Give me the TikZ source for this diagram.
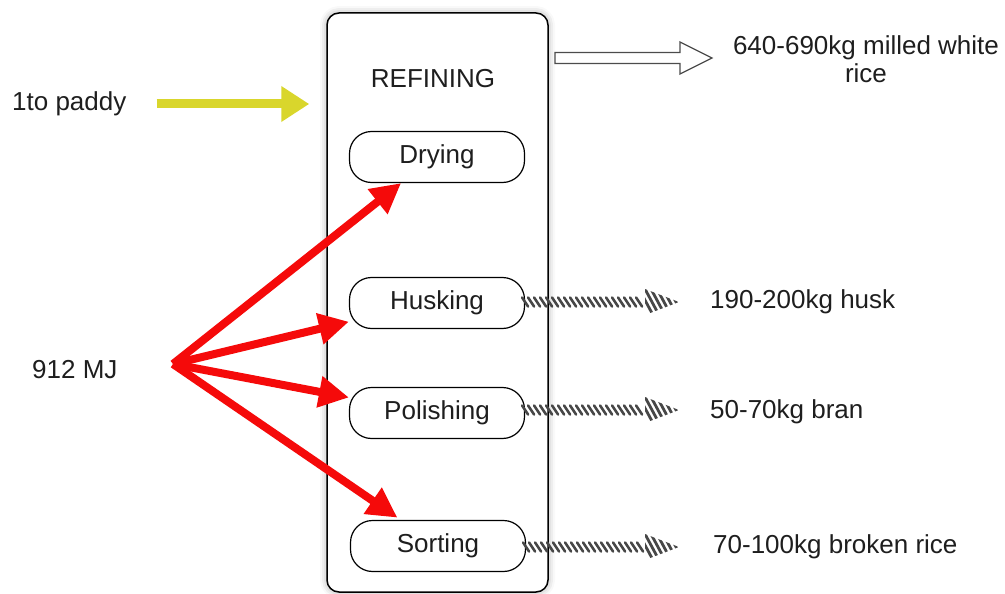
\documentclass[tikz,border=0pt]{standalone}
\usepackage{fontspec}
\setmainfont{Liberation Sans}
\usetikzlibrary{arrows.meta,calc,decorations.markings,shadows.blur}

\definecolor{txt}{HTML}{1E1E1E}
\definecolor{energy}{HTML}{F50A0A}
\definecolor{paddy}{HTML}{D9D62C}
\definecolor{hatch}{HTML}{474747}

\tikzset{
  lbl/.style={font=\fontsize{26}{28}\selectfont, text=txt, inner sep=0pt},
  stage/.style={draw=black, line width=1.2pt, rounded corners=22pt,
    minimum width=175pt, minimum height=51pt, inner sep=0pt,
    font=\fontsize{26}{28}\selectfont, text=txt},
  energyflow/.style={draw=energy, line width=8pt,
    -{Triangle[length=30pt,width=30pt]}},
  inflow/.style={draw=paddy, line width=9pt,
    -{Triangle[length=28pt,width=34pt]}},
  % hatched output arrow: slanted strokes along the body, striped head
  waste/.style={decoration={markings,
      mark=between positions 0pt and 118pt step 6pt with {
        \draw[hatch, line width=2.6pt, line cap=round] (-3,-4.5) -- (3,4.5);},
      mark=at position 1 with {
        \clip (-34,-13) -- (0,0) -- (-34,13) -- cycle;
        \foreach \s in {-33,-27,...,0}
          \draw[hatch, line width=2.8pt] (\s-7,-13) -- (\s+7,13);}},
    postaction={decorate}},
}

\begin{document}
\begin{tikzpicture}[x=1pt,y=-1pt]
  \useasboundingbox (0,0) rectangle (1005,594);

  % refining process box
  \node[draw=black, line width=1.5pt, rounded corners=12pt, fill=white,
        minimum width=221pt, minimum height=579pt, inner sep=0pt,
        blur shadow={shadow xshift=0pt, shadow yshift=0pt,
                     shadow blur radius=7pt, shadow opacity=35}]
        (box) at (437.5,302.5) {};
  \node[lbl] (refining) at (433,79) {REFINING};

  % process stages
  \node[stage] (drying)    at (437,157) {Drying};
  \node[stage] (husking)   at (437,303) {Husking};
  \node[stage] (polishing) at (437,413) {Polishing};
  \node[stage] (sorting)   at (438,546) {Sorting};

  % inputs
  \node[lbl, anchor=west] (paddytxt) at (12,104) {1to paddy};
  \node[lbl, anchor=west] (mj) at (32,370) {912 MJ};
  \coordinate (hub) at (173,364);

  \draw[inflow, shorten <=30pt, shorten >=17pt]
    (paddytxt.east) -- (paddytxt.east -| box.west);

  \draw[energyflow] (hub) -- (drying.216);
  \draw[energyflow] (hub) -- (husking.192);
  \draw[energyflow] (hub) -- (polishing.170);
  \draw[energyflow, shorten >=4pt] (hub) -- (sorting.145);

  % main product
  \node[lbl, align=center] (white) at (866,59)
    {640-690kg milled white\\rice};
  \coordinate (ws) at (555,58);
  \coordinate (we) at (712,58);
  \draw[draw=black!70, line width=1.3pt, fill=white, line join=miter]
    ($(ws)+(0,-5.5)$) -- ($(we)+(-32,-5.5)$) -- ($(we)+(-32,-16)$) -- (we)
    -- ($(we)+(-32,16)$) -- ($(we)+(-32,5.5)$) -- ($(ws)+(0,5.5)$) -- cycle;

  % by-products
  \node[lbl, anchor=west] (husk)   at (710,302) {190-200kg husk};
  \node[lbl, anchor=west] (bran)   at (710,412) {50-70kg bran};
  \node[lbl, anchor=west] (broken) at (713,547) {70-100kg broken rice};

  \coordinate (h1) at (679,302);
  \coordinate (h2) at (679,410);
  \coordinate (h3) at (679,547);
  \path[waste] (husking.east |- h1) -- (h1);
  \path[waste] (polishing.east |- h2) -- (h2);
  \path[waste] (sorting.east |- h3) -- (h3);
\end{tikzpicture}
\end{document}
